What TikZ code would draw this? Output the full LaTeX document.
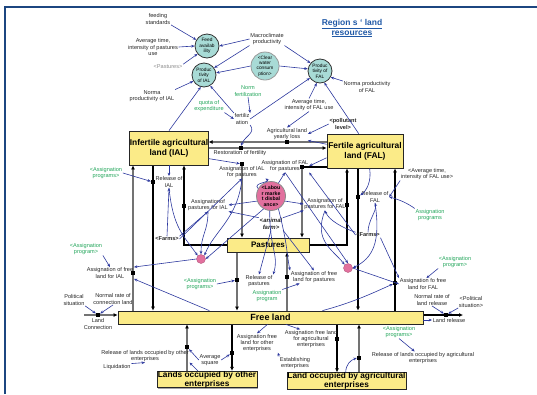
\documentclass[tikz,border=0pt]{standalone}
\usepackage{fontspec}
\setmainfont{Liberation Sans}
\usetikzlibrary{arrows.meta,shadows,calc,backgrounds}
\definecolor{infoblue}{RGB}{44,56,158}
\definecolor{progreen}{RGB}{34,165,90}
\definecolor{stockyellow}{RGB}{251,235,136}
\definecolor{auxteal}{RGB}{168,219,214}
\definecolor{labpink}{RGB}{226,112,158}
\definecolor{frameblue}{RGB}{28,70,128}
\definecolor{titleblue}{RGB}{31,88,166}
\tikzstyle{frame}=[draw=frameblue, line width=2.4pt]
\tikzstyle{lbl}=[font=\fontsize{5.6}{6.2}\selectfont, text=black!85, align=center, inner sep=0.6pt]
\tikzstyle{prog}=[lbl, text=progreen]
\tikzstyle{stock}=[draw=black!85, line width=0.8pt, fill=stockyellow, font=\fontsize{8.4}{10}\selectfont\bfseries, align=center, inner sep=0pt, drop shadow={shadow xshift=1.2pt, shadow yshift=-1.2pt, fill=black!35, opacity=1}]
\tikzstyle{aux}=[circle, draw=black!80, line width=0.8pt, fill=auxteal, minimum size=24pt, inner sep=0pt, font=\fontsize{4.8}{5.3}\selectfont, align=center]
\tikzstyle{dot}=[circle, draw=labpink!80!black, fill=labpink, minimum size=9pt, inner sep=0pt]
\tikzstyle{info}=[draw=infoblue, line width=0.6pt, -{Stealth[length=3.4pt,width=2.8pt]}]
\tikzstyle{pipe}=[draw=black!55, line width=1.7pt, -{Latex[length=4pt,width=4pt,color=black]}]
\tikzstyle{blackpipe}=[draw=black, line width=1.5pt, -{Latex[length=4pt,width=4pt]}]
\tikzstyle{valve}=[fill=black, minimum width=4pt, minimum height=4pt, inner sep=0pt]
\newcommand{\valve}[2]{\node[valve] (#1) at (#2) {};} % valve sitting on a pipe
\begin{document}
\begin{tikzpicture}[x=1pt,y=-1pt]
\useasboundingbox (0,0) rectangle (537,394);
\draw[frame] (5,394) -- (5,7) -- (537,7);
\node[font=\fontsize{8.5}{10}\selectfont\bfseries, text=titleblue, align=center] (title) at (352,28) {\underline{Region s ` land}\\\underline{resources}};

% stocks
\node[stock, minimum width=77pt, minimum height=34pt] (ial) at (169,148) {Infertile agricultural\\land (IAL)};
\node[stock, minimum width=76pt, minimum height=34pt] (fal) at (365,151) {Fertile agricultural\\land (FAL)};
\node[stock, minimum width=82pt, minimum height=14pt, font=\fontsize{8}{9}\selectfont\bfseries] (past) at (268,245) {Pastures};
\node[stock, minimum width=305pt, minimum height=13pt, font=\fontsize{9}{10}\selectfont\bfseries] (free) at (270.5,317.5) {Free land};
\node[stock, minimum width=100pt, minimum height=15pt, font=\fontsize{8.3}{7.2}\selectfont\bfseries] (oth) at (207,379.5) {Lands occupied by other\\enterprises};
\node[stock, minimum width=119pt, minimum height=16pt, font=\fontsize{8.3}{7.2}\selectfont\bfseries] (agr) at (346.5,381) {Land occupied by agricultural\\enterprises};

% auxiliaries
\node[aux] (feedav) at (207,46) {Feed\\availab\\ility};
\node[aux] (prodial) at (204,75) {Produc\\tivity\\of IAL};
\node[aux, draw=black!40, minimum size=28pt] (water) at (265,66) {<Clear\\water\\consum\\ption>};
\node[aux] (prodfal) at (320,71) {Produc\\tivity of\\FAL};
\node[aux, fill=labpink, draw=black!45, minimum size=29pt, font=\fontsize{5.2}{5.6}\selectfont\bfseries] (labour) at (271,196) {<Labou\\r marke\\t disbal\\ance>};
\node[dot] (dotL) at (201,259) {};
\node[dot] (dotR) at (348,268) {};

% top labels
\node[lbl] (feedstd) at (158,19) {feeding\\standards};
\node[lbl] (avgpast) at (153,47) {Average time,\\intensity of pastures\\use};
\node[lbl, text=black!45] (pastsh) at (168,67) {<Pastures>};
\node[lbl] (normial) at (152,96) {Norma\\productivity of IAL};
\node[lbl] (macro) at (267,39) {Macroclimate\\productivity};
\node[prog] (normfert) at (248,91) {Norm\\fertilization};
\node[prog] (quota) at (209,106) {quota of\\expenditure};
\node[lbl] (fert) at (242,119) {fertiliz\\ation};
\node[lbl] (normfal) at (367,87) {Norma productivity\\of FAL};
\node[lbl] (avgfal) at (309,105) {Average time,\\intensity of FAL use};
\node[lbl, font=\fontsize{5.6}{6.2}\selectfont\bfseries] (pollut) at (343,124) {<pollutant\\level>};

% flow labels
\node[lbl] (lblLoss) at (287,134) {Agricultural land\\yearly loss};
\node[lbl] (lblRest) at (240,153) {Restoration of fertility};
\node[lbl] (lblAIP) at (242,172) {Assignation of IAL\\for pastures};
\node[lbl] (lblAFP) at (285,166) {Assignation of FAL\\for pastures};
\node[lbl] (lblAPI) at (208,205) {Assignationof\\pastures for IAL};
\node[lbl] (lblAPF) at (325,204) {Assignation of\\pastures for FAL};
\node[lbl] (lblRI) at (169,182) {Release of\\IAL};
\node[lbl] (lblRF) at (375,197) {Release of\\FAL};
\node[lbl] (lblAFI) at (110,273) {Assignation of free\\land for IAL};
\node[lbl] (lblAFF) at (423,284) {Assignation fo free\\land for FAL};
\node[lbl] (lblRP) at (259,281) {Release of\\pastures};
\node[lbl] (lblAFPa) at (314,277) {Assignation of free\\land for pastures};
\node[lbl] (lblLC) at (98,324) {Land\\Connection};
\node[lbl] (lblLR) at (449,320) {Land release};
\node[lbl] (lblROth) at (145,356) {Release of lands occupied by other\\enterprises};
\node[lbl] (lblAOth) at (257,343) {Assignation free\\land for other\\enterprises};
\node[lbl] (lblAAgr) at (311,339) {Assignation free land\\for agricultural\\enterprises};
\node[lbl] (lblRAgr) at (423,358) {Release of lands occupied by agricultural\\enterprises};

% other labels
\node[prog] (asgL) at (106,173) {<Assignation\\programs>};
\node[lbl, font=\fontsize{5.6}{6.2}\selectfont\bfseries] (farmsL) at (167,239) {<Farms>};
\node[lbl, font=\fontsize{5.6}{6.2}\selectfont\bfseries] (farmsR) at (368,235) {<Farms>};
\node[lbl, font=\fontsize{6}{6.6}\selectfont\bfseries\itshape] (animal) at (271,224) {<animal\\farm>};
\node[lbl] (avgfalsh) at (427,174) {<Average time,\\intensity of FAL use>};
\node[prog] (asgR) at (430,215) {Assignation\\programs};
\node[prog] (asgLL) at (86,249) {<Assignation\\program>};
\node[lbl] (polit) at (74,300) {Political\\situation};
\node[lbl] (normconn) at (113,299) {Normal rate of\\connection land};
\node[prog] (asgM) at (200,284) {<Assignation\\programs>};
\node[prog] (asgP) at (267,296) {Assignation\\program};
\node[prog] (asgPR) at (455,262) {<Assignation\\program>};
\node[lbl] (normrel) at (432,300) {Normal rate of\\land release};
\node[lbl] (politR) at (471,302) {<Political\\situation>};
\node[prog] (asgBR) at (399,332) {<Assignation\\programs>};
\node[lbl] (avgsq) at (210,360) {Average\\square};
\node[lbl] (liq) at (117,367) {Liquidation};
\node[lbl] (estab) at (295,363) {Establishing\\enterprises};

% valves
\valve{vLoss}{287,142}
\valve{vRest}{241,148}
\valve{vAIP}{242,164}
\valve{vAFP}{302,167}
\valve{vAPI}{184,206}
\valve{vAPF}{347,205}
\valve{vRI}{153,182}
\valve{vAFI}{133,273}
\valve{vRF}{358,197}
\valve{vAFF}{395,283}
\valve{vRP}{237,280}
\valve{vAFPa}{287,277}
\valve{vLC}{98,315}
\valve{vLR}{446,315}
\valve{vROth}{187,347}
\valve{vAOth}{232,353}
\valve{vAAgr}{337,339}
\valve{vRAgr}{359,358}
\coordinate (lcsrc) at (84,315);
\coordinate (lrend) at (463,315);

% pipes
\begin{scope}[on background layer]
\draw[pipe] (fal.west |- vLoss) -- (ial.east |- vLoss);
\draw[pipe] (ial.east |- vRest) -- (fal.west |- vRest);
\draw[pipe] (vAIP) -- (past.north -| vAIP);
\draw[blackpipe, -] (fal.west |- vAFP) -- (vAFP);
\draw[pipe] (vAFP) -- (past.north -| vAFP);
\draw[blackpipe] (past.west) -| (vAPI) -- (ial.south -| vAPI);
\draw[blackpipe] (past.east) -| (vAPF) -- (fal.south -| vAPF);
\draw[blackpipe] (ial.south -| vRI) -- (free.north -| vRI);
\draw[pipe] (free.north -| vAFI) -- (ial.south -| vAFI);
\draw[blackpipe] (fal.south -| vRF) -- (free.north -| vRF);
\draw[blackpipe] (free.north -| vAFF) -- (fal.south -| vAFF);
\draw[pipe] (past.south -| vRP) -- (free.north -| vRP);
\draw[pipe] (free.north -| vAFPa) -- (past.south -| vAFPa);
\draw[pipe] (lcsrc) -- (free.west |- vLC);
\draw[blackpipe] (free.east |- vLR) -- (lrend);
\draw[pipe] (oth.north -| vROth) -- (free.south -| vROth);
\draw[blackpipe] (free.south -| vAOth) -- (oth.north -| vAOth);
\draw[blackpipe] (free.south -| vAAgr) -- (agr.north -| vAAgr);
\draw[pipe] (agr.north -| vRAgr) -- (free.south -| vRAgr);
\end{scope}

% information links, top
\draw[info] (feedstd.south east) -- (feedav.150);
\draw[info] (avgpast.east) -- (feedav.west);
\draw[info] (pastsh.north east) -- (feedav.220);
\draw[info] (macro.west) -- (feedav.east);
\draw[info] (macro.south west) -- (prodial.35);
\draw[info] (macro.south east) -- (prodfal.140);
\draw[info] (water.west) -- (prodial.10);
\draw[info] (water.east) -- (prodfal.170);
\draw[info] (normial.north east) -- (prodial.210);
\draw[info] (fert.north west) -- (prodial.300);
\draw[info] (quota.south east) -- (fert.west);
\draw[info] (normfert.south) -- (fert.north east);
\draw[info] (fert.east) -- (prodfal.215);
\draw[info] (ial.north) -- (prodial.255);
\draw[info] (fert.south east) .. controls +(6,8) and +(4,-10) .. (vRest.north);
\draw[info] (normfal.north west) -- (prodfal.330);
\draw[info] (avgfal.north) -- (prodfal.255);
\draw[info] (fal.110) -- (prodfal.290);
\draw[info] (avgfal.south) -- (lblLoss.north);
\draw[info] (pollut.west) -- (lblLoss.east);
\draw[info] (fal.170) -- (lblLoss.south east);

% information links, middle
\draw[info] (asgL.east) -- (vRI);
\draw[info] (ial.south -| lblRI) -- (lblRI.north);
\draw[info] (ial.-15) -- (vAIP);
\draw[info] (farmsL.north) -- (lblRI.south);
\draw[info] (farmsL.north east) -- (lblAPI.south);
\draw[info] (farmsL.east) -- (lblAIP.south);
\draw[info] (labour.200) -- (lblAPI.east);
\draw[info] (labour.150) .. controls +(-6,-6) and +(6,4) .. (lblAIP.south east);
\draw[info] (labour.-20) -- (lblAPF.west);
\draw[info] (labour.60) -- (lblAFP.south);
\draw[info] (animal.north west) -- (lblAPI.south east);
\draw[info] (animal.north east) -- (lblAPF.south west);
\draw[info] (farmsR.north) .. controls +(0,-12) and +(2,8) .. (lblRF.south);
\draw[info] (farmsR.north west) .. controls +(-12,-4) and +(4,10) .. (lblAPF.south);
\draw[info] (farmsR.south east) -- (lblAFF.north west);
\draw[info] (farmsR.west) -- (lblAFP.south east);
\draw[info] (fal.-75) .. controls +(2,14) and +(8,-6) .. (vRF);
\draw[info] (avgfalsh.south west) -- (lblRF.east);
\draw[info] (asgR.north west) .. controls +(-8,-6) and +(8,2) .. (lblRF.east);
\draw[info] (fal.190) -- (lblAFP.east);
\draw[info] (lblRI.south) .. controls +(4,40) and +(-14,-20) .. (dotL.north west);
\draw[info] (lblAPI.south) .. controls +(0,20) and +(0,-20) .. (dotL.north);
\draw[info] (lblAIP.south) .. controls +(-4,40) and +(10,-25) .. (dotL.north east);
\draw[info] (labour.240) -- (dotL.east);
\draw[info] (lblRF.south) .. controls +(6,40) and +(20,-10) .. (dotR.east);
\draw[info] (lblAPF.south) .. controls +(-12,30) and +(-12,-15) .. (dotR.north west);
\draw[info] (lblAFP.south) -- (dotR.north);
\draw[info] (animal.south) -- (lblRP.north);
\draw[info] (labour.265) .. controls +(0,40) and +(6,-20) .. (lblRP.north east);
\draw[info] (animal.south east) -- (lblAFPa.north);
\draw[info] (labour.300) .. controls +(10,40) and +(-4,-20) .. (lblAFPa.north west);

% information links, lower part
\draw[info] (dotL.west) -- (lblAFI.north east);
\draw[info] (dotR.east) -- (lblAFF.west);
\draw[info] ($(free.north west)!0.3!(free.north east)$) -- (lblAFI.south east);
\draw[info] ($(free.north west)!0.67!(free.north east)$) .. controls +(30,-8) and +(-22,10) .. (vAFF);
\draw[info] (asgLL.south east) -- (lblAFI.north);
\draw[info] (asgM.east) -- (vRP);
\draw[info] (asgP.north east) -- ($(lblAFPa.south west)!0.2!(lblAFPa.south east)$);
\draw[info] (asgPR.south west) -- (lblAFF.60);
\draw[info] (polit.south east) -- (vLC);
\draw[info] (normconn.south) -- (vLC);
\draw[info] (normrel.south) -- (vLR);
\draw[info] (politR.south west) -- (vLR);
\draw[info] (free.east |- lblLR) -- (lblLR.west);
\draw[info] (asgBR.south) -- ($(lblRAgr.north west)!0.42!(lblRAgr.north east)$);
\draw[info] (agr.95) .. controls +(0,-8) and +(-6,2) .. (vRAgr.west);
\draw[info] (avgsq.west) -- (vROth);
\draw[info] (avgsq.east) -- (vAOth);
\draw[info] ($(oth.north west)!0.41!(oth.north east)$) -- (lblROth.south east);
\draw[info] (liq.north east) -- (lblROth.south);
\draw[info] (estab.north west) -- (lblAOth.south east);
\draw[info] ($(free.south west)!0.49!(free.south east)$) -- (lblAOth.north);
\draw[info] ($(free.south west)!0.55!(free.south east)$) -- ($(lblAAgr.north west)!0.3!(lblAAgr.north east)$);
\end{tikzpicture}
\end{document}
